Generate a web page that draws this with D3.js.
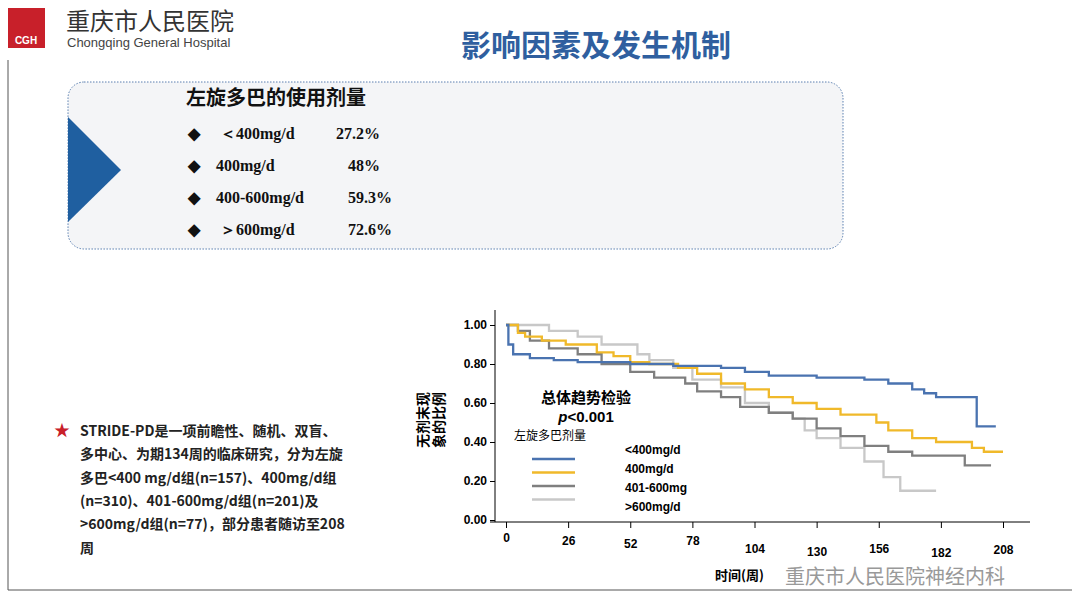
<!DOCTYPE html>
<html><head><meta charset="utf-8">
<script src="https://cdn.jsdelivr.net/npm/d3@7"></script>
<style>body{margin:0;background:#fff}svg{display:block;font-family:"Noto Sans CJK SC",Arial,sans-serif}</style>
</head><body><svg id="c" width="1080" height="608"></svg>
<script>
// dose groups and Kaplan-Meier style steps (week, proportion)
const groups = ["<400mg/d", "400mg/d", "401-600mg", ">600mg/d"];
const colors = ["#4a73b0", "#f0b92a", "#7f7f7f", "#c8c8c8"];
const weekTicks = [0, 26, 52, 78, 104, 130, 156, 182, 208];
const yTicks = [0, 0.2, 0.4, 0.6, 0.8, 1.0];
const blue = [[0,1],[1,0.9],[3,0.85],[10,0.83],[20,0.82],[30,0.81],[52,0.8],[70,0.79],[90,0.78],[100,0.76],[110,0.74],[130,0.73],[150,0.72],[160,0.7],[170,0.67],[175,0.65],[180,0.63],[197,0.48],[205,0.48]];
const yellow = [[0,1],[5,0.96],[8,0.94],[15,0.92],[25,0.9],[38,0.86],[45,0.84],[52,0.81],[60,0.8],[72,0.78],[80,0.75],[90,0.7],[100,0.67],[110,0.63],[120,0.6],[130,0.57],[140,0.54],[155,0.5],[160,0.46],[170,0.42],[180,0.4],[195,0.37],[200,0.35],[208,0.35]];
const gray = [[0,1],[5,0.97],[10,0.92],[18,0.88],[30,0.85],[40,0.8],[52,0.76],[62,0.73],[75,0.7],[80,0.66],[90,0.63],[98,0.58],[110,0.55],[120,0.52],[130,0.47],[140,0.43],[150,0.38],[160,0.35],[170,0.33],[192,0.28],[203,0.28]];
const light = [[0,1],[18,0.97],[30,0.94],[40,0.9],[55,0.85],[60,0.82],[70,0.78],[78,0.72],[90,0.68],[100,0.6],[110,0.55],[120,0.52],[125,0.46],[130,0.42],[140,0.37],[150,0.3],[158,0.22],[165,0.15],[180,0.15]];
const series = [blue, yellow, gray, light];
const doseItems = ["＜400mg/d", "400mg/d", "400-600mg/d", "＞600mg/d"];
const dosePct = ["27.2%", "48%", "59.3%", "72.6%"];

const svg = d3.select("#c");

// frame lines
svg.append("line").attr("x1",8).attr("x2",8).attr("y1",60).attr("y2",590).attr("stroke","#555");
svg.append("line").attr("x1",8).attr("x2",1072).attr("y1",590).attr("y2",590).attr("stroke","#555");

// logo
svg.append("rect").attr("x",8).attr("y",8).attr("width",37).attr("height",40).attr("fill","#c8202a");
svg.append("text").attr("x",26).attr("y",44).attr("text-anchor","middle").attr("fill","#fff").attr("font-size",10).attr("font-weight","bold").attr("font-family","Arial").text("CGH");
svg.append("text").attr("x",66).attr("y",30).attr("font-size",24).attr("fill","#333").text("重庆市人民医院");
svg.append("text").attr("x",67).attr("y",47).attr("font-size",13).attr("fill","#444").attr("font-family","Arial").text("Chongqing General Hospital");

svg.append("text").attr("x",596).attr("y",56).attr("text-anchor","middle").attr("font-size",30).attr("font-weight","bold").attr("fill","#2f5f9f").text("影响因素及发生机制");

// dotted box
svg.append("rect").attr("x",68).attr("y",82).attr("width",775).attr("height",167).attr("rx",16)
  .attr("fill","#f4f5f7").attr("stroke","#5a7fb0").attr("stroke-dasharray","1.5,1.5");
svg.append("path").attr("d","M68,117L121,170L68,222Z").attr("fill","#1f5fa0");
svg.append("text").attr("x",186).attr("y",105).attr("font-size",20).attr("font-weight","bold").attr("fill","#111").text("左旋多巴的使用剂量");
doseItems.forEach((d,i) => {
  const y = 139 + i*32;
  const g = svg.append("g").attr("font-family","Liberation Serif,serif").attr("font-weight","bold").attr("font-size",16).attr("fill","#111");
  g.append("text").attr("x",188).attr("y",y).text("◆");
  g.append("text").attr("x",i==1||i==2?216:220).attr("y",y).text(d);
  g.append("text").attr("x",[336,348,348,348][i]).attr("y",y).text(dosePct[i]);
});

// left bullet text
svg.append("text").attr("x",54).attr("y",436).attr("fill","#c8202a").attr("font-size",16).text("★");
["STRIDE-PD是一项前瞻性、随机、双盲、","多中心、为期134周的临床研究，分为左旋","多巴<400 mg/d组(n=157)、400mg/d组","(n=310)、401-600mg/d组(n=201)及",">600mg/d组(n=77)，部分患者随访至208","周"]
  .forEach((t,i) => svg.append("text").attr("x",80).attr("y",436+i*23.3).attr("font-size",14).attr("font-weight","bold").attr("fill","#222").text(t));

// chart
const x = d3.scaleLinear().domain([0,208]).range([506,1003]);
const y = d3.scaleLinear().domain([0,1]).range([520,325]);
svg.append("g").attr("transform","translate(0,522)")
  .call(d3.axisBottom(x).tickValues(weekTicks).tickSize(6).tickSizeOuter(0).tickPadding(6))
  .call(g => { g.select(".domain").attr("d","M490,0H1030"); g.selectAll("text").attr("font-size",12).attr("font-weight","bold").attr("font-family","Arial"); });
svg.selectAll(".tick text").each(function(d,i){ d3.select(this).attr("dy", [0.7,0.9,1.2,0.9,1.6,1.8,1.6,1.9,1.7][i]+"em"); });
svg.append("g").attr("transform","translate(495,0)")
  .call(d3.axisLeft(y).tickValues(yTicks).tickFormat(d3.format(".2f")).tickSize(5).tickSizeOuter(0))
  .call(g => { g.select(".domain").attr("d","M0,310V522"); g.selectAll("text").attr("font-size",12).attr("font-weight","bold").attr("font-family","Arial"); });

const line = d3.line().x(d => x(d[0])).y(d => y(d[1])).curve(d3.curveStepAfter);
[3,2,1,0].forEach(i => svg.append("path").datum(series[i]).attr("d",line).attr("fill","none").attr("stroke",colors[i]).attr("stroke-width",2.3));

svg.append("text").attr("transform","translate(428,420) rotate(-90)").attr("text-anchor","middle").attr("font-size",14).attr("font-weight","bold").text("无剂末现");
svg.append("text").attr("transform","translate(444,420) rotate(-90)").attr("text-anchor","middle").attr("font-size",14).attr("font-weight","bold").text("象的比例");

svg.append("text").attr("x",586).attr("y",403).attr("text-anchor","middle").attr("font-size",15).attr("font-weight","bold").text("总体趋势检验");
svg.append("text").attr("x",586).attr("y",422).attr("text-anchor","middle").attr("font-size",15).attr("font-weight","bold").attr("font-family","Arial")
  .html('<tspan font-style="italic">p</tspan>&lt;0.001');
svg.append("text").attr("x",514).attr("y",440).attr("font-size",12).text("左旋多巴剂量");
groups.forEach((g,i) => {
  svg.append("line").attr("x1",532).attr("x2",575).attr("y1",459+i*13.5).attr("y2",459+i*13.5).attr("stroke",colors[i]).attr("stroke-width",2.5);
  svg.append("text").attr("x",625).attr("y",454+i*19).attr("font-size",12).attr("font-weight","bold").attr("font-family","Arial").text(g);
});
svg.append("text").attr("x",715).attr("y",580).attr("font-size",13).attr("font-weight","bold").text("时间(周)");

// watermark
svg.append("text").attr("x",785).attr("y",584).attr("font-size",20).attr("fill","#888").attr("opacity",0.85).text("重庆市人民医院神经内科");
</script></body></html>
